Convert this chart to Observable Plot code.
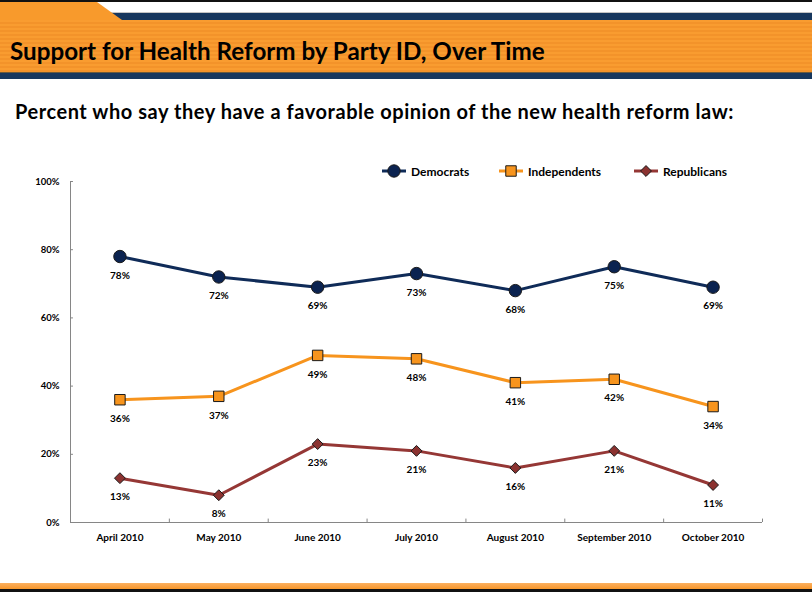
<!DOCTYPE html>
<html><head><meta charset="utf-8">
<script src="https://cdn.jsdelivr.net/npm/d3@7"></script>
<script src="https://cdn.jsdelivr.net/npm/@observablehq/plot@0.6"></script>
<style>
body{margin:0;background:#fff;}
#page{position:relative;width:812px;height:592px;overflow:hidden;background:#fff;font-family:Lato,"Open Sans",sans-serif;color:#000;}
.b{position:absolute;left:0;width:812px;}
#tab{position:absolute;left:0;top:2px;width:140px;height:18px;background:#f89a2c;clip-path:polygon(0 0,97px 0,122px 18px,0 18px);}
#title{position:absolute;left:10px;top:39px;font-size:24.2px;line-height:1;font-weight:700;white-space:nowrap;}
#subtitle{position:absolute;left:15px;top:101px;font-size:20px;line-height:1;font-weight:700;white-space:nowrap;letter-spacing:0.55px;}
#chart{position:absolute;left:0;top:175px;}
.leg{position:absolute;top:163px;height:16px;display:flex;align-items:center;font-size:12px;font-weight:700;white-space:nowrap;}
.leg svg{margin-right:5px;}
</style></head><body>
<div id="page">
  <div class="b" style="top:0;height:2px;background:#111"></div>
  <div class="b" style="top:12px;height:1px;background:#c4c4c4"></div>
  <div class="b" style="top:13px;height:7px;background:#17375e"></div>
  <div id="tab"></div>
  <div class="b" style="top:20px;height:52px;background:repeating-linear-gradient(to bottom,#f99c30 0 2px,#f3932a 2px 4px)"></div>
  <div class="b" style="top:72px;height:1px;background:#6b5a3c"></div>
  <div class="b" style="top:73px;height:6px;background:#17375e"></div>
  <div id="title">Support for Health Reform by Party ID, Over Time</div>
  <div id="subtitle">Percent who say they have a favorable opinion of the new health reform law:</div>
  <div id="legend"></div>
  <div id="chart"></div>
  <div class="b" style="top:583px;height:6px;background:linear-gradient(to bottom,#fbb060,#f7962a)"></div>
  <div class="b" style="top:589px;height:3px;background:#111"></div>
</div>
<script>
const months = ["April 2010","May 2010","June 2010","July 2010","August 2010","September 2010","October 2010"];
const democrats = [78,72,69,73,68,75,69];
const independents = [36,37,49,48,41,42,34];
const republicans = [13,8,23,21,16,21,11];
const seriesNames = ["Democrats","Independents","Republicans"];
const lineColors = ["#0f2b58","#f7941d","#953735"];
const fillColors = ["#0b2350","#f7941d","#8b3230"];
const symbols = ["circle","square","diamond2"];
const radii = [6.2,5.9,4.9];
const yTicks = [0,20,40,60,80,100];

const seriesValues = [democrats, independents, republicans];
const data = [];
seriesValues.forEach((vals, s) => vals.forEach((v, i) => data.push({series: seriesNames[s], xi: i + 0.5, value: v})));

const marks = [
  Plot.ruleX([0], {y1: 0, y2: 100, stroke: "#868686"}),
  Plot.ruleY([0], {x1: 0, x2: months.length, stroke: "#868686"}),
  Plot.ruleX(d3.range(1, months.length + 1), {y1: 0, y2: 1, stroke: "#868686"}),
  Plot.ruleY(yTicks.slice(1), {x1: 0, x2: 0.03, stroke: "#868686"}),
  Plot.axisY({ticks: yTicks, tickFormat: d => d + "%", tickSize: 0, tickPadding: 11, label: null, fontSize: 9.5, fontWeight: "bold"}),
  Plot.axisX({ticks: months.map((d, i) => i + 0.5), tickFormat: d => months[Math.floor(d)], tickSize: 0, tickPadding: 11, label: null, fontSize: 10, fontWeight: "bold"})
];
seriesNames.forEach((name, s) => {
  const sd = data.filter(d => d.series === name);
  marks.push(Plot.line(sd, {x: "xi", y: "value", stroke: lineColors[s], strokeWidth: 3}));
});
seriesNames.forEach((name, s) => {
  const sd = data.filter(d => d.series === name);
  marks.push(Plot.dot(sd, {x: "xi", y: "value", symbol: () => symbols[s], r: radii[s], fill: fillColors[s], stroke: "#1a1a1a", strokeWidth: 1}));
  marks.push(Plot.text(sd, {x: "xi", y: "value", text: d => d.value + "%", dy: 19, fontSize: 10, fontWeight: "bold", fill: "#000"}));
});

const chart = Plot.plot({
  width: 812,
  height: 380,
  marginTop: 6,
  marginBottom: 33,
  marginLeft: 70,
  marginRight: 50,
  x: {type: "linear", domain: [0, months.length], axis: null},
  y: {domain: [0, 100], axis: null},
  symbol: {type: "identity"},
  style: {fontFamily: "Lato, 'Open Sans', sans-serif", color: "#000", background: "transparent", overflow: "visible"},
  marks
});
document.getElementById("chart").appendChild(chart);

// legend
const legPos = [382, 499, 634];
const legend = document.getElementById("legend");
seriesNames.forEach((name, s) => {
  const item = document.createElement("div");
  item.className = "leg";
  item.style.left = legPos[s] + "px";
  const ns = "http://www.w3.org/2000/svg";
  const svg = document.createElementNS(ns, "svg");
  svg.setAttribute("width", 24); svg.setAttribute("height", 14);
  const ln = document.createElementNS(ns, "line");
  ln.setAttribute("x1", 0); ln.setAttribute("x2", 24); ln.setAttribute("y1", 7); ln.setAttribute("y2", 7);
  ln.setAttribute("stroke", lineColors[s]); ln.setAttribute("stroke-width", 3);
  svg.appendChild(ln);
  const p = document.createElementNS(ns, "path");
  const symType = [d3.symbolCircle, d3.symbolSquare, d3.symbolDiamond2][s];
  p.setAttribute("d", d3.symbol(symType, Math.PI * radii[s] * radii[s])());
  p.setAttribute("transform", "translate(12,7)");
  p.setAttribute("fill", fillColors[s]); p.setAttribute("stroke", "#1a1a1a");
  svg.appendChild(p);
  item.appendChild(svg);
  item.appendChild(document.createTextNode(name));
  legend.appendChild(item);
});
</script>
</body></html>
